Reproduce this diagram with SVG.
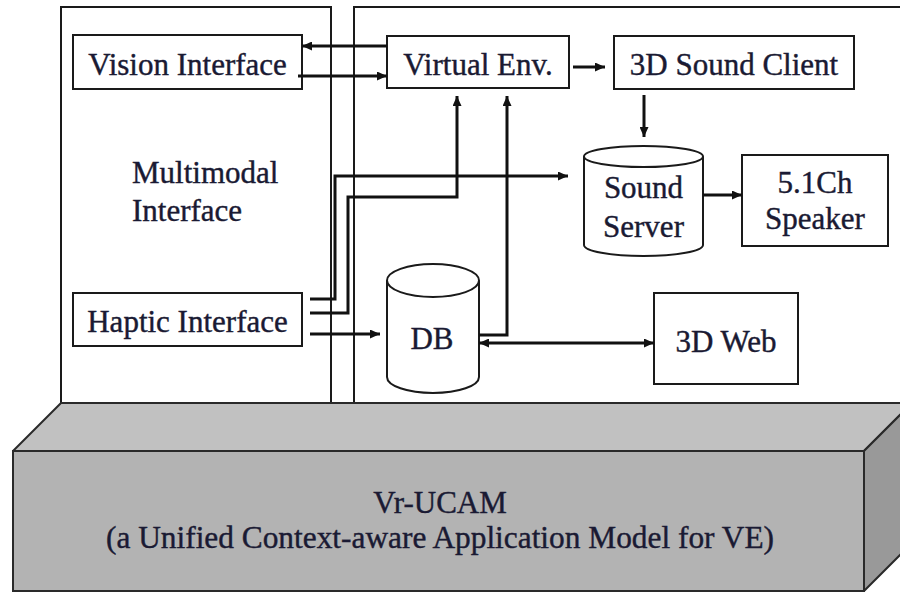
<svg xmlns="http://www.w3.org/2000/svg" width="900" height="592" viewBox="0 0 900 592">
  <style>
    .panel { fill: #ffffff; stroke: #1a1a1a; stroke-width: 2; }
    .box { fill: #ffffff; stroke: #1a1a1a; stroke-width: 2; }
    text { font-family: 'Liberation Serif', 'DejaVu Serif', serif; font-size: 31px; fill: #1a1a33; stroke: #1a1a33; stroke-width: 0.4; }
    .mid { text-anchor: middle; }
    .wire { fill: none; stroke: #111111; stroke-width: 3; stroke-linejoin: miter; }
    .base-top { fill: #c1c1c1; stroke: #2a2a2a; stroke-width: 2; stroke-linejoin: round; }
    .base-front { fill: #b3b3b3; stroke: #2a2a2a; stroke-width: 2; }
    .base-side { fill: #999999; stroke: #2a2a2a; stroke-width: 2; stroke-linejoin: round; }
  </style>
  <defs>
    <marker id="arrow" viewBox="0 0 10 9" markerWidth="10" markerHeight="9" refX="10" refY="4.5" orient="auto-start-reverse" markerUnits="userSpaceOnUse">
      <path d="M0,0 L10,4.5 L0,9 z" fill="#111111"/>
    </marker>
  </defs>

  <rect width="900" height="592" fill="#ffffff"/>

  <!-- two framing panels -->
  <g id="panel-multimodal">
    <rect class="panel" x="61" y="7" width="270" height="396"/>
    <text x="132" y="183">Multimodal</text>
    <text x="132" y="221">Interface</text>
  </g>
  <g id="panel-services">
    <rect class="panel" x="354" y="7" width="560" height="396"/>
  </g>

  <!-- Vr-UCAM base block -->
  <g id="vr-ucam">
    <polygon class="base-top" points="13,451 61,403 912,403 864,451"/>
    <polygon class="base-side" points="864,451 912,403 912,543 864,591"/>
    <rect class="base-front" x="13" y="451" width="851" height="140"/>
    <text class="mid" x="440" y="513">Vr-UCAM</text>
    <text class="mid" x="440" y="548" textLength="668" lengthAdjust="spacingAndGlyphs">(a Unified Context-aware Application Model for VE)</text>
  </g>

  <g id="vision-interface">
    <rect class="box" x="73" y="35" width="229" height="54"/>
    <text class="mid" x="187.5" y="75">Vision Interface</text>
  </g>

  <g id="haptic-interface">
    <rect class="box" x="73" y="293" width="229" height="53"/>
    <text class="mid" x="187.5" y="332">Haptic Interface</text>
  </g>

  <g id="virtual-env">
    <rect class="box" x="387" y="36" width="182" height="52"/>
    <text class="mid" x="478" y="75">Virtual Env.</text>
  </g>

  <g id="sound-client">
    <rect class="box" x="614" y="36" width="240" height="53"/>
    <text class="mid" x="734" y="75">3D Sound Client</text>
  </g>

  <g id="sound-server">
    <path class="box" d="M584,156.5 L584,245 A59.5,11 0 0 0 703,245 L703,156.5"/>
    <ellipse class="box" cx="643.5" cy="156.5" rx="59.5" ry="10.5"/>
    <text class="mid" x="643.5" y="198">Sound</text>
    <text class="mid" x="643.5" y="237">Server</text>
  </g>

  <g id="speaker">
    <rect class="box" x="742" y="155" width="146" height="91"/>
    <text class="mid" x="815" y="193">5.1Ch</text>
    <text class="mid" x="815" y="229">Speaker</text>
  </g>

  <g id="db">
    <path class="box" d="M387,280.5 L387,377 A46,16 0 0 0 479,377 L479,280.5"/>
    <ellipse class="box" cx="433" cy="280.5" rx="46" ry="16.5"/>
    <text class="mid" x="432" y="349">DB</text>
  </g>

  <g id="web3d">
    <rect class="box" x="654" y="293" width="144" height="91"/>
    <text class="mid" x="726" y="352">3D Web</text>
  </g>

  <!-- connectors -->
  <g id="connectors">
    <!-- Virtual Env. <-> Vision Interface -->
    <path class="wire" d="M387,46 L302,46" marker-end="url(#arrow)"/>
    <path class="wire" d="M298,76 L387,76" marker-end="url(#arrow)"/>
    <!-- Virtual Env. -> 3D Sound Client -> Sound Server -> Speaker -->
    <path class="wire" d="M573,67 L605,67" marker-end="url(#arrow)"/>
    <path class="wire" d="M644,95 L644,137" marker-end="url(#arrow)"/>
    <path class="wire" d="M703,195 L742,195" marker-end="url(#arrow)"/>
    <!-- Haptic Interface outputs -->
    <path class="wire" d="M310,299 L335,299 L335,176 L568,176" marker-end="url(#arrow)"/>
    <path class="wire" d="M310,313 L348,313 L348,197 L457,197 L457,96" marker-end="url(#arrow)"/>
    <path class="wire" d="M310,334 L380,334" marker-end="url(#arrow)"/>
    <!-- DB -> Virtual Env. -->
    <path class="wire" d="M479,335 L507,335 L507,96" marker-end="url(#arrow)"/>
    <!-- DB <-> 3D Web -->
    <path class="wire" d="M479,343 L654,343" marker-start="url(#arrow)" marker-end="url(#arrow)"/>
  </g>
</svg>
